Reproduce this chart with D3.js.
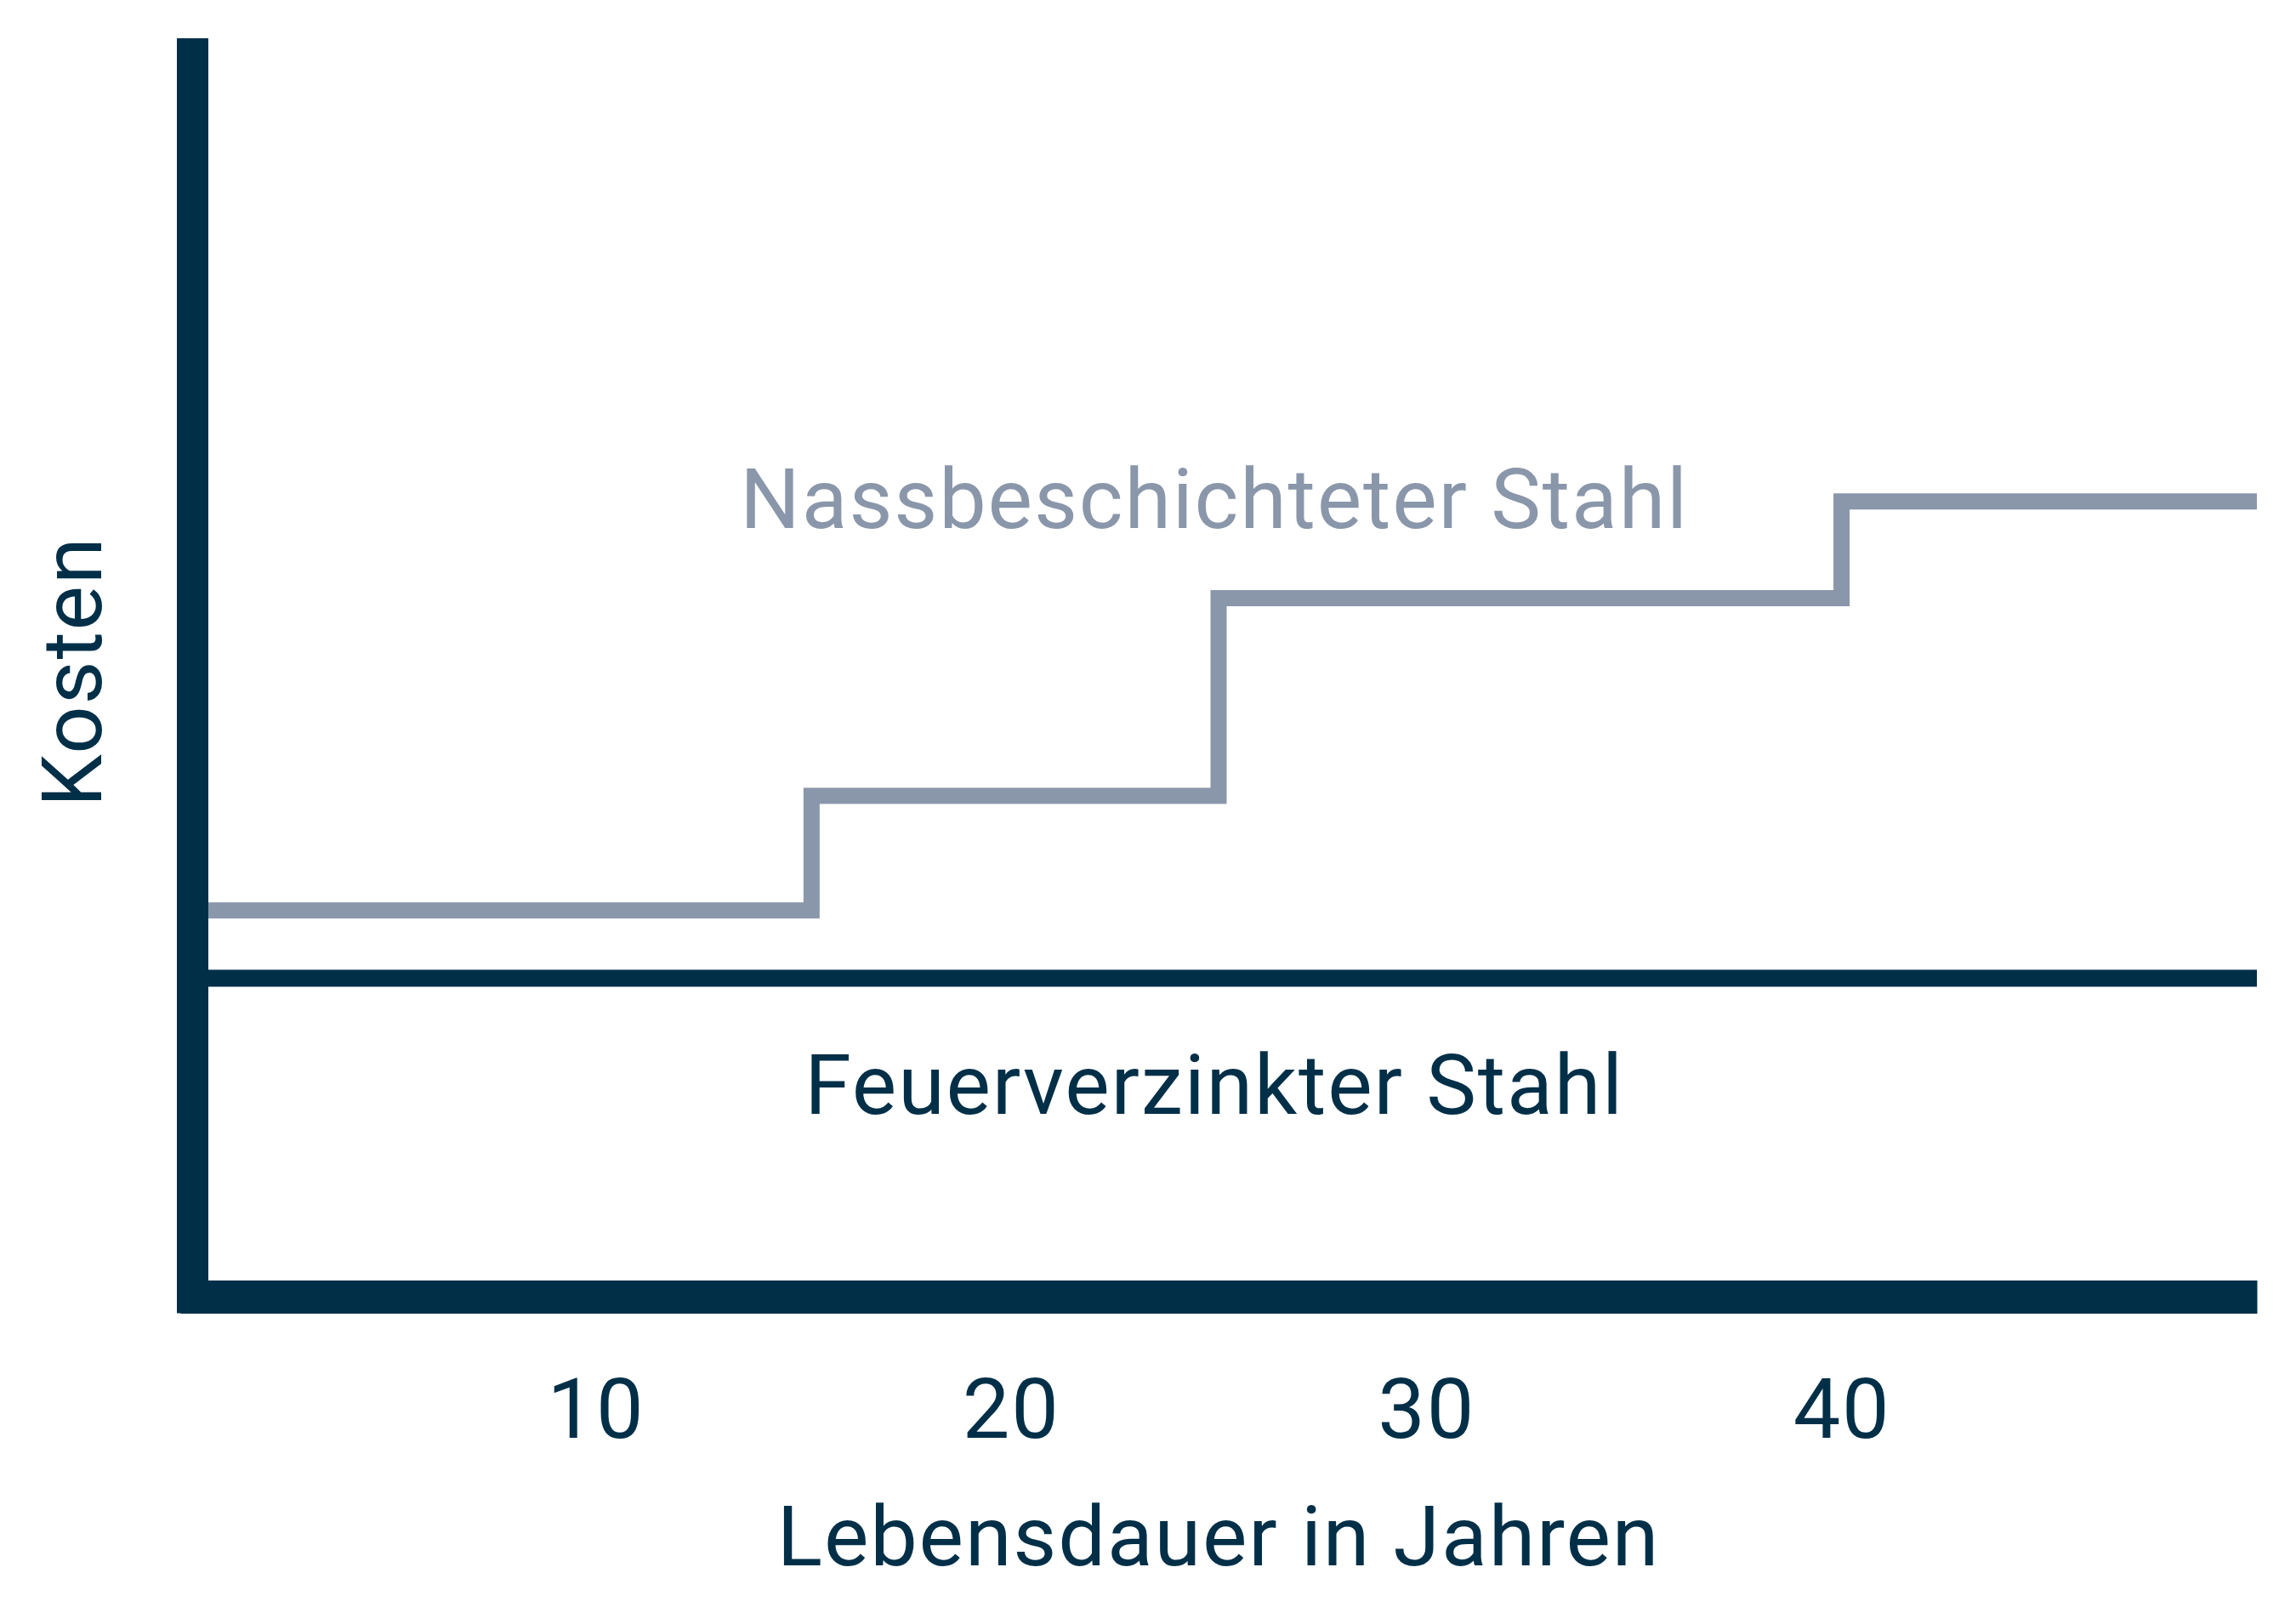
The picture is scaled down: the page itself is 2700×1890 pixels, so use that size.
<!DOCTYPE html>
<html>
<head>
<meta charset="utf-8">
<script src="https://cdn.jsdelivr.net/npm/d3@7"></script>
<style>
  body { margin: 0; background: #ffffff; }
  .chart text { font-family: Roboto, "Liberation Sans", sans-serif; fill: #022f48; letter-spacing: 1.8px; }
</style>
</head>
<body>
<div class="chart"></div>
<script>
// lifetime in years, costs in arbitrary units
var tickYears = [10, 20, 30, 40];
var feuerYears = [0, 50];
var feuerCost = [25.3, 25.3];
var nassYears = [0, 15.2, 25, 40, 50];
var nassCost = [30.7, 39.8, 55.5, 63.2, 63.2];

var navy = "#022f48",
    grey = "#8a97aa";

var width = 2700, height = 1890;

var svg = d3.select(".chart").append("svg")
    .attr("width", width)
    .attr("height", height);

var x = d3.scaleLinear().domain([0, 50]).range([212, 2654]);
var y = d3.scaleLinear().domain([0, 100]).range([1525, 45]);

function toPoints(years, costs) {
  return years.map(function(d, i) { return { year: d, cost: costs[i] }; });
}

var line = d3.line()
    .x(function(d) { return x(d.year); })
    .y(function(d) { return y(d.cost); })
    .curve(d3.curveStepAfter);

// series
svg.append("path")
    .datum(toPoints(nassYears, nassCost))
    .attr("fill", "none")
    .attr("stroke", grey)
    .attr("stroke-width", 19)
    .attr("stroke-linejoin", "miter")
    .attr("d", line);

svg.append("path")
    .datum(toPoints(feuerYears, feuerCost))
    .attr("fill", "none")
    .attr("stroke", navy)
    .attr("stroke-width", 20)
    .attr("d", line);

// x axis: thick base line + labels
var xAxis = svg.append("g")
    .attr("transform", "translate(0," + y(0) + ")")
    .call(d3.axisBottom(x).tickValues(tickYears).tickSize(0).tickSizeOuter(0).tickPadding(96));

xAxis.select(".domain")
    .attr("stroke", navy)
    .attr("stroke-width", 39);

xAxis.selectAll(".tick text")
    .attr("font-size", 99)
    .attr("font-family", null)
    .style("fill", navy);

// y axis: plain thick bar, no ticks
svg.append("line")
    .attr("x1", 226.5).attr("x2", 226.5)
    .attr("y1", y.range()[1])
    .attr("y2", y(0) + 19.5)
    .attr("stroke", navy)
    .attr("stroke-width", 37);

// axis titles
svg.append("text")
    .attr("x", x(25))
    .attr("y", 1841)
    .attr("text-anchor", "middle")
    .attr("font-size", 99)
    .text("Lebensdauer in Jahren");

svg.append("text")
    .attr("transform", "translate(119,790) rotate(-90)")
    .attr("text-anchor", "middle")
    .attr("font-size", 99)
    .text("Kosten");

// series labels
svg.append("text")
    .attr("x", x(24.9))
    .attr("y", y(61.1))
    .attr("text-anchor", "middle")
    .attr("font-size", 99)
    .style("fill", grey)
    .text("Nassbeschichteter Stahl");

svg.append("text")
    .attr("x", x(24.9))
    .attr("y", y(14.5))
    .attr("text-anchor", "middle")
    .attr("font-size", 99)
    .text("Feuerverzinkter Stahl");
</script>
</body>
</html>
